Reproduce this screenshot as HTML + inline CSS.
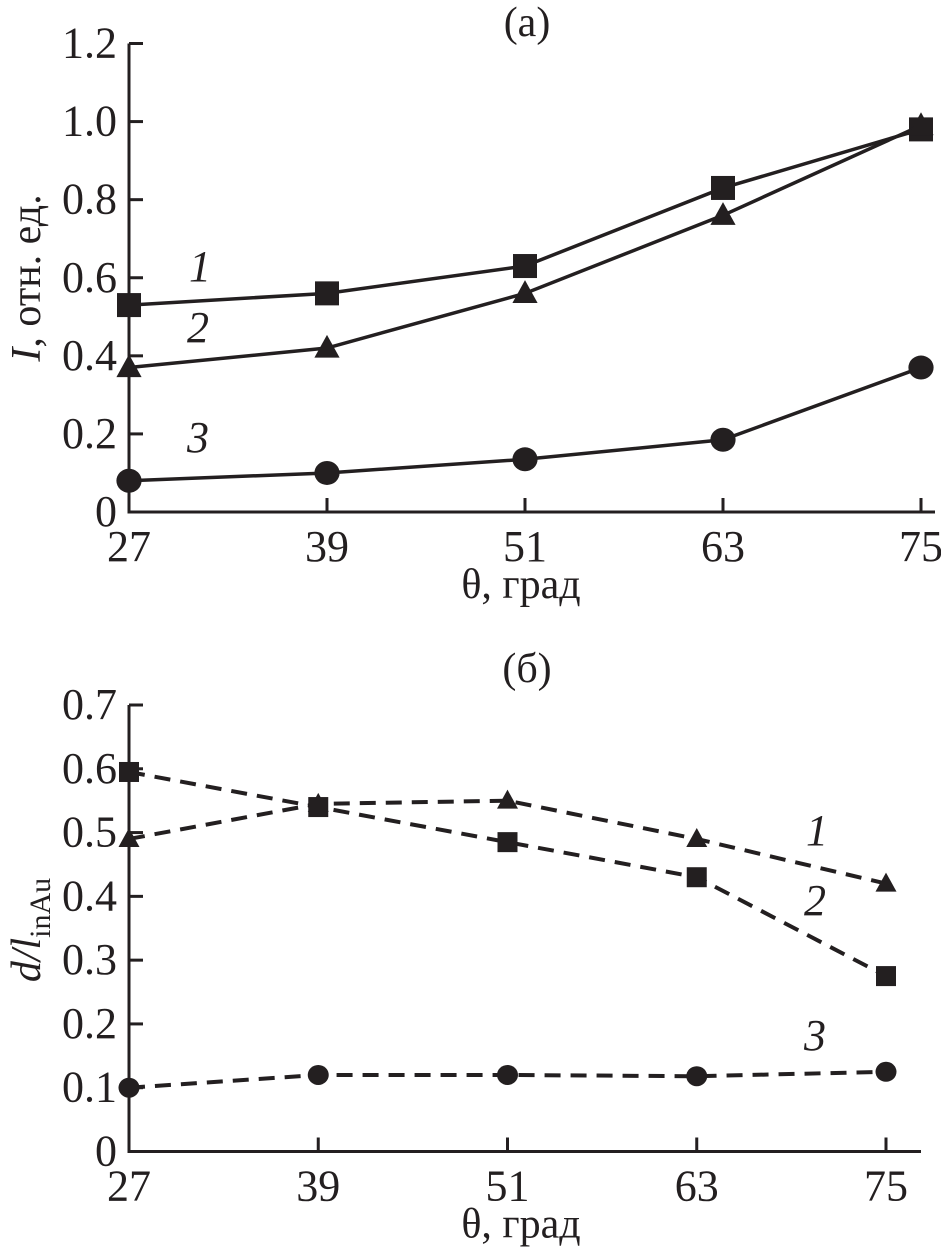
<!DOCTYPE html>
<html><head><meta charset="utf-8"><style>
body{margin:0;background:#fff}
svg text{font-family:"Liberation Serif",serif;fill:#231f20}
</style></head><body>
<svg width="941" height="1250" viewBox="0 0 941 1250" id="fig">
</svg>
<script>
const xCats=[27,39,51,63,75];
const topTicks=[0,0.2,0.4,0.6,0.8,1.0,1.2];
const topTickLabels=["0","0.2","0.4","0.6","0.8","1.0","1.2"];
const topS1=[0.53,0.56,0.63,0.83,0.98];
const topS2=[0.37,0.42,0.56,0.76,0.99];
const topS3=[0.08,0.10,0.135,0.185,0.37];
const botTicks=[0,0.1,0.2,0.3,0.4,0.5,0.6,0.7];
const botTickLabels=["0","0.1","0.2","0.3","0.4","0.5","0.6","0.7"];
const botTri=[0.49,0.545,0.55,0.49,0.42];
const botSq=[0.595,0.54,0.485,0.43,0.275];
const botCirc=[0.10,0.12,0.12,0.118,0.125];

const NS="http://www.w3.org/2000/svg";
const svg=document.getElementById('fig');
function el(tag,attrs,parent,text){const e=document.createElementNS(NS,tag);for(const k in attrs)e.setAttribute(k,attrs[k]);if(text!==undefined)e.textContent=text;(parent||svg).appendChild(e);return e;}

function panel(cfg){
  const g=el('g',{});
  
  
  const xs=v=>cfg.x0+(v-27)/48*(cfg.x1-cfg.x0);
  const ys=v=>cfg.y0-(v/cfg.ymax)*(cfg.y0-cfg.ytop);
  const ax=el('path',{d:`M${cfg.x0} ${cfg.ytop}H${cfg.x0+12}M${cfg.x0} ${cfg.ytop}V${cfg.y0}H${cfg.xend}`,stroke:'#231f20','stroke-width':3,fill:'none'},g);
  
  
  cfg.ticks.forEach((t,i)=>{
    el('line',{x1:cfg.x0,x2:cfg.x0+14,y1:ys(t),y2:ys(t),stroke:'#231f20','stroke-width':3},g);
    const tl=el('text',{x:cfg.x0-12,y:ys(t)+14,'text-anchor':'end','font-size':44},g,cfg.tickLabels[i]);
    
    
  });
  xCats.forEach(c=>{
    el('line',{x1:xs(c),x2:xs(c),y1:cfg.y0,y2:cfg.y0-14,stroke:'#231f20','stroke-width':3},g);
    const tl=el('text',{x:xs(c),y:cfg.y0+49,'text-anchor':'middle','font-size':44},g,String(c));
    
    
  });
  cfg.series.forEach(s=>{
    const sg=el('g',{},g);
    
    
    const pts=s.data.map((v,i)=>[xs(xCats[i]),ys(v)]);
    const attrs={points:pts.map(p=>p.join(',')).join(' '),fill:'none',stroke:'#231f20','stroke-width':cfg.dash?4:3.5};
    if(cfg.dash)attrs['stroke-dasharray']='16 10';
    el('polyline',attrs,sg);
    pts.forEach(p=>{
      const r=cfg.msize;let m;
      if(s.marker==='sq')m=el('rect',{x:p[0]-r,y:p[1]-r,width:2*r,height:2*r,fill:'#231f20'},sg);
      else if(s.marker==='tri')m=el('polygon',{points:`${p[0]},${p[1]-r*1.1} ${p[0]-r*1.05},${p[1]+r*0.8} ${p[0]+r*1.05},${p[1]+r*0.8}`,fill:'#231f20'},sg);
      else m=el('ellipse',{cx:p[0],cy:p[1],rx:r*1.05,ry:r,fill:'#231f20'},sg);
      
      
    });
  });
  cfg.labels.forEach(l=>{
    const t=el('text',{x:l[0],y:l[1],'font-size':44,'font-style':'italic','text-anchor':'middle'},g,l[2]);
    
    
  });
  const tt=el('text',{x:527,y:cfg.titleY,'font-size':42,'text-anchor':'middle'},g,cfg.title);
  
  
  const xt=el('text',{x:521,y:cfg.y0+86,'font-size':42,'text-anchor':'middle'},g,'θ, град');
  
  
  return g;
}
panel({name:'panel-a',x0:129,x1:921,xend:935,y0:512,ytop:43.5,ymax:1.2,ticks:topTicks,tickLabels:topTickLabels,dash:false,msize:12,
  series:[{name:'series-1',data:topS1,marker:'sq'},{name:'series-2',data:topS2,marker:'tri'},{name:'series-3',data:topS3,marker:'circ'}],
  labels:[[200,281,'1'],[198,342,'2'],[198,452,'3']],title:'(a)',titleY:36});
panel({name:'panel-b',x0:129,x1:886,xend:921,y0:1151.5,ytop:705,ymax:0.7,ticks:botTicks,tickLabels:botTickLabels,dash:true,msize:10,
  series:[{name:'series-1',data:botTri,marker:'tri'},{name:'series-2',data:botSq,marker:'sq'},{name:'series-3',data:botCirc,marker:'circ'}],
  labels:[[817,845,'1'],[815,915,'2'],[815,1050,'3']],title:'(б)',titleY:682});

const ya=el('text',{transform:'translate(40,278) rotate(-90)','font-size':42,'text-anchor':'middle'});


el('tspan',{'font-style':'italic'},ya,'I');
el('tspan',{},ya,', отн. ед.');
const yb=el('text',{transform:'translate(40,930) rotate(-90)','font-size':42,'text-anchor':'middle'});


el('tspan',{'font-style':'italic'},yb,'d/l');
el('tspan',{'font-size':30,dy:10},yb,'inAu');
</script>
</body></html>
